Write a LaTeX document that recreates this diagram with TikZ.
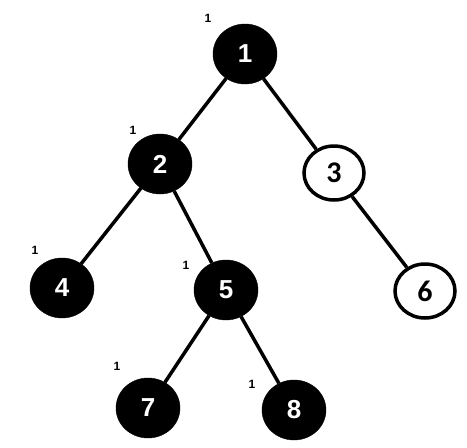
\documentclass[tikz,border=0pt]{standalone}
\usepackage{fontspec}
\setmainfont{Liberation Sans}
\newfontfamily\lightnum{Carlito}
\usetikzlibrary{shapes.geometric}
\begin{document}
\begin{tikzpicture}[x=1pt,y=-1pt,
  blacknode/.style={ellipse,fill=black,draw=black,minimum width=64pt,minimum height=60pt,inner sep=0pt,text=white,font=\fontsize{26}{26}\selectfont\bfseries},
  whitenode/.style={ellipse,fill=white,draw=black,line width=3.5pt,minimum width=60pt,minimum height=54pt,inner sep=0pt,text=black,font=\fontsize{30}{30}\selectfont\lightnum\bfseries},
  edge/.style={line width=3.5pt,black},
  tag/.style={font=\fontsize{12}{12}\selectfont\bfseries,inner sep=0pt}]
\useasboundingbox (0,0) rectangle (467,448);
\node[blacknode] (n1) at (245,54) {1};
\node[blacknode] (n2) at (160,164) {2};
\node[whitenode] (n3) at (334,173) {3};
\node[blacknode] (n4) at (62,288) {4};
\node[blacknode] (n5) at (226,290) {5};
\node[whitenode] (n6) at (425,291) {6};
\node[blacknode] (n7) at (148,408) {7};
\node[blacknode] (n8) at (294,410) {8};
\draw[edge] (n1) -- (n2);
\draw[edge] (n1) -- (n3);
\draw[edge] (n2) -- (n4);
\draw[edge] (n2) -- (n5);
\draw[edge] (n3) -- (n6);
\draw[edge] (n5) -- (n7);
\draw[edge] (n5) -- (n8);
\node[tag] (t1) at (208,18) {1};
\node[tag] (t2) at (133,130) {1};
\node[tag] (t4) at (35,250) {1};
\node[tag] (t5) at (186,265) {1};
\node[tag] (t7) at (117,366) {1};
\node[tag] (t8) at (252,384) {1};
\end{tikzpicture}
\end{document}
